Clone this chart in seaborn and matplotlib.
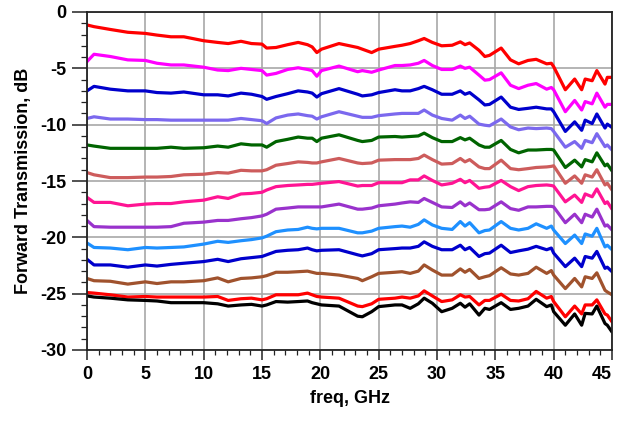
import numpy as np
import pandas as pd
import matplotlib
matplotlib.use("Agg")
import matplotlib.pyplot as plt
import seaborn as sns
from matplotlib.ticker import MultipleLocator

# frequency points (GHz)
freq = [0, 0.6, 2, 3.5, 5, 6, 7.2, 8.3, 10, 11.2, 12.1, 13.2, 14.1, 15, 15.4, 16.2,
        17.2, 18.1, 18.9, 19.3, 19.7, 20.1, 21.6, 23.2, 23.6, 24.4, 25, 26.4, 27,
        27.7, 28.4, 28.9, 29.6, 30.4, 31.3, 32, 32.4, 32.8, 33.6, 34.1, 34.5, 35.5,
        36.3, 37, 37.8, 38.5, 39.4, 39.8, 40, 41, 41.8, 42.4, 42.7, 43.3, 43.7,
        44.4, 44.6, 45]

s01 = [-1.15, -1.3, -1.55, -1.8, -1.9, -2.05, -2.2, -2.2, -2.55, -2.7, -2.8, -2.6, -2.8,
       -2.85, -3.2, -3.15, -2.9, -2.7, -2.9, -3.1, -3.6, -3.3, -2.8, -3.15, -3.3, -3.6,
       -3.3, -3.05, -2.95, -2.8, -2.55, -2.35, -2.7, -3.0, -2.95, -2.65, -2.9, -2.75,
       -3.4, -3.95, -3.85, -3.2, -4.25, -4.6, -4.3, -4.2, -4.6, -4.55, -4.85, -6.9,
       -5.95, -6.9, -5.95, -6.1, -5.2, -6.4, -5.8, -5.8]
s02 = [-4.4, -3.75, -3.95, -4.25, -4.3, -4.55, -4.7, -4.7, -4.9, -5.15, -5.2, -5.0, -5.1,
       -5.2, -5.6, -5.45, -5.1, -4.95, -5.1, -5.2, -5.7, -5.2, -4.8, -5.3, -5.2, -5.35,
       -5.15, -4.75, -4.75, -4.7, -4.55, -4.3, -4.75, -5.1, -5.1, -4.8, -5.0, -4.9,
       -5.6, -6.05, -6.0, -5.4, -6.5, -6.8, -6.5, -6.35, -6.85, -6.7, -6.9, -8.85,
       -7.85, -8.7, -7.95, -8.15, -7.2, -8.45, -8.2, -8.2]
s03 = [-7.0, -6.6, -6.85, -7.0, -7.0, -7.15, -7.2, -7.1, -7.35, -7.35, -7.45, -7.2, -7.3,
       -7.5, -7.75, -7.5, -7.25, -7.0, -7.1, -7.2, -7.55, -7.25, -6.8, -7.3, -7.45, -7.35,
       -7.15, -6.9, -7.0, -7.0, -6.8, -6.6, -6.9, -7.3, -7.3, -7.0, -7.3, -7.15,
       -7.8, -8.25, -8.2, -7.55, -8.45, -8.65, -8.55, -8.45, -8.6, -8.6, -8.85, -10.6,
       -9.75, -10.5, -9.6, -9.9, -9.05, -10.3, -9.95, -10.25]
s04 = [-9.45, -9.3, -9.5, -9.5, -9.55, -9.55, -9.6, -9.6, -9.6, -9.6, -9.6, -9.45, -9.55,
       -9.65, -9.9, -9.4, -9.15, -9.05, -9.2, -9.25, -9.5, -9.3, -8.85, -9.25, -9.35, -9.35,
       -9.2, -9.05, -9.0, -9.0, -9.0, -8.7, -9.15, -9.45, -9.6, -9.15, -9.45, -9.25,
       -9.95, -10.05, -10.1, -9.5, -10.2, -10.45, -10.3, -10.35, -10.3, -10.35, -10.6, -12.0,
       -11.5, -12.1, -11.4, -11.6, -10.8, -11.95, -11.8, -12.25]
s05 = [-11.8, -11.9, -12.1, -12.1, -12.1, -12.1, -12.0, -12.1, -12.05, -11.9, -12.0, -11.7, -11.8,
       -11.8, -12.0, -11.5, -11.3, -11.1, -11.2, -11.2, -11.5, -11.2, -10.9, -11.4, -11.5, -11.4,
       -11.1, -11.05, -11.1, -11.05, -11.0, -10.75, -11.15, -11.5, -11.5, -11.15, -11.35, -11.2,
       -11.8, -12.0, -12.0, -11.4, -12.2, -12.5, -12.25, -12.25, -12.2, -12.2, -12.25, -13.8,
       -13.15, -13.75, -13.1, -13.3, -12.5, -13.65, -13.5, -14.1]
s06 = [-14.25, -14.45, -14.7, -14.7, -14.65, -14.65, -14.6, -14.45, -14.4, -14.25, -14.3, -14.05, -14.1,
       -14.1, -14.0, -13.6, -13.45, -13.3, -13.35, -13.4, -13.4, -13.3, -13.0, -13.4, -13.45, -13.4,
       -13.15, -13.1, -13.1, -13.1, -13.0, -12.7, -13.1, -13.5, -13.45, -13.0, -13.3, -13.1,
       -13.75, -13.9, -13.9, -13.15, -13.9, -14.0, -13.9, -13.8, -13.75, -13.7, -13.65, -15.2,
       -14.55, -15.2, -14.45, -14.65, -14.0, -15.35, -15.2, -15.8]
s07 = [-16.45, -16.9, -16.9, -17.2, -17.05, -17.0, -17.0, -16.85, -16.7, -16.4, -16.55, -16.15, -16.1,
       -16.0, -15.8, -15.5, -15.4, -15.35, -15.3, -15.3, -15.25, -15.2, -15.05, -15.45, -15.4, -15.4,
       -15.15, -15.15, -15.15, -14.9, -14.9, -14.55, -14.95, -15.35, -15.2, -14.85, -15.15, -14.95,
       -15.65, -15.55, -15.5, -14.95, -15.5, -15.85, -15.5, -15.4, -15.35, -15.4, -15.45, -16.85,
       -16.25, -16.9, -16.15, -16.4, -15.7, -17.0, -16.85, -17.5]
s08 = [-18.5, -19.05, -19.1, -19.1, -19.1, -19.1, -19.05, -18.75, -18.65, -18.5, -18.5, -18.35, -18.25,
       -18.1, -17.95, -17.5, -17.4, -17.3, -17.3, -17.3, -17.3, -17.3, -17.05, -17.5, -17.5, -17.4,
       -17.2, -17.05, -16.95, -16.85, -16.9, -16.55, -16.9, -17.3, -17.35, -16.85, -17.2, -16.95,
       -17.55, -17.55, -17.5, -16.85, -17.45, -17.6, -17.3, -17.3, -17.25, -17.25, -17.3, -18.7,
       -17.95, -18.7, -17.95, -18.2, -17.5, -19.0, -18.9, -19.35]
s09 = [-20.5, -20.9, -20.95, -21.1, -20.9, -20.95, -20.9, -20.85, -20.6, -20.35, -20.45, -20.3, -20.2,
       -20.05, -19.9, -19.5, -19.35, -19.3, -19.1, -19.2, -19.25, -19.2, -19.2, -19.6, -19.6, -19.45,
       -19.2, -19.05, -19.0, -19.1, -18.85, -18.45, -18.9, -19.2, -19.3, -18.6, -19.0, -18.7,
       -19.6, -19.4, -19.35, -18.6, -19.2, -19.35, -19.2, -18.8, -19.2, -19.0, -19.35, -20.55,
       -19.8, -20.55, -19.7, -19.9, -19.2, -20.85, -20.7, -21.1]
s10 = [-21.95, -22.45, -22.45, -22.65, -22.45, -22.55, -22.4, -22.3, -22.15, -21.95, -22.15, -21.9, -21.8,
       -21.7, -21.55, -21.25, -21.15, -21.1, -20.95, -21.1, -21.2, -21.15, -21.1, -21.55, -21.65, -21.45,
       -21.1, -21.0, -20.95, -20.95, -20.8, -20.4, -20.8, -21.1, -21.1, -20.7, -21.1, -20.9,
       -21.7, -21.45, -21.4, -20.7, -21.35, -21.2, -21.05, -20.8, -21.1, -20.95, -21.4, -22.6,
       -21.85, -22.6, -21.7, -21.85, -21.25, -22.75, -22.65, -23.05]
s11 = [-23.65, -23.85, -23.9, -24.15, -23.95, -24.1, -23.95, -23.95, -23.85, -23.6, -23.95, -23.65, -23.6,
       -23.5, -23.4, -23.1, -23.1, -23.05, -23.0, -23.1, -23.2, -23.2, -23.35, -23.65, -23.85, -23.5,
       -23.2, -23.1, -23.05, -23.2, -23.0, -22.45, -22.9, -23.35, -23.35, -22.8, -23.1, -22.85,
       -23.65, -23.5, -23.4, -22.7, -23.25, -23.35, -23.2, -22.65, -23.2, -22.95, -23.35, -24.55,
       -23.65, -24.4, -23.5, -23.65, -23.15, -24.7, -24.85, -25.1]
s12 = [-24.9, -24.95, -25.1, -25.3, -25.25, -25.3, -25.3, -25.3, -25.3, -25.25, -25.6, -25.45, -25.4,
       -25.55, -25.45, -25.1, -25.1, -25.1, -24.95, -25.1, -25.25, -25.3, -25.4, -26.1, -26.15, -25.9,
       -25.5, -25.4, -25.3, -25.4, -25.2, -24.75, -25.2, -25.7, -25.55, -25.1, -25.3, -25.25,
       -26.0, -25.6, -25.6, -25.05, -25.6, -25.65, -25.45, -24.8, -25.4, -25.25, -25.7, -27.05,
       -26.1, -26.8, -26.0, -26.0, -25.55, -26.8, -26.9, -27.5]
s13 = [-25.2, -25.3, -25.4, -25.55, -25.6, -25.65, -25.8, -25.8, -25.8, -25.9, -26.1, -26.0, -25.95,
       -26.1, -26.0, -25.7, -25.75, -25.7, -25.65, -25.8, -25.9, -26.0, -26.1, -27.0, -27.05, -26.6,
       -26.15, -26.0, -26.0, -26.3, -25.9, -25.4, -25.85, -26.6, -26.3, -25.85, -26.2, -25.9,
       -26.9, -26.3, -26.4, -25.8, -26.4, -26.3, -26.1, -25.5, -26.15, -26.0, -26.6, -27.8,
       -26.8, -27.8, -26.75, -26.8, -26.1, -27.65, -27.8, -28.4]

series = [s01, s02, s03, s04, s05, s06, s07, s08, s09, s10, s11, s12, s13]
colors = ["#FF0000", "#FF00FF", "#0000CC", "#7B68EE", "#006400", "#CD5C5C", "#FF1493",
          "#9932CC", "#1E90FF", "#0000CC", "#A0522D", "#FF0000", "#000000"]
xticks = [0, 5, 10, 15, 20, 25, 30, 35, 40, 45]
yticks = [-30, -25, -20, -15, -10, -5, 0]

rows = []
for i, s in enumerate(series):
    for f, v in zip(freq, s):
        rows.append({"trace": i, "freq": f, "db": v})
df = pd.DataFrame(rows)

sns.set_style("white")
plt.rcParams["font.family"] = ["Liberation Sans", "DejaVu Sans"]
plt.rcParams["font.weight"] = "bold"
plt.rcParams["axes.labelweight"] = "bold"
plt.rcParams["axes.unicode_minus"] = False
plt.rcParams["text.color"] = "black"
plt.rcParams["axes.labelcolor"] = "black"
plt.rcParams["xtick.color"] = "black"
plt.rcParams["ytick.color"] = "black"

fig = plt.figure(figsize=(6.19, 4.22), dpi=100)
ax = fig.add_axes([87 / 619, 1 - 350 / 422, 525 / 619, 338 / 422])

sns.lineplot(data=df, x="freq", y="db", hue="trace", palette=colors, sort=False,
             estimator=None, legend=False, linewidth=2.3, ax=ax)

ax.set_xlim(0, 45)
ax.set_ylim(-30, 0)
ax.set_xticks(xticks, [str(t) for t in xticks])
ax.set_yticks(yticks, [str(t) for t in yticks])
ax.xaxis.set_minor_locator(MultipleLocator(1))
ax.yaxis.set_minor_locator(MultipleLocator(1))
ax.grid(True, which="major", color="#A8A8A8", linewidth=1.2)
ax.set_axisbelow(True)
for sp in ax.spines.values():
    sp.set_color("#222222")
    sp.set_linewidth(1.3)
ax.tick_params(axis="y", which="major", direction="out", length=11, width=1.1,
               color="#222222", labelcolor="black", labelsize=13, pad=4, left=True)
ax.tick_params(axis="y", which="minor", direction="out", length=4.5, width=0.9,
               color="#222222", left=True)
ax.tick_params(axis="x", which="major", direction="out", length=7.5, width=1.1,
               color="#222222", labelcolor="black", labelsize=13, pad=4, bottom=True)
ax.tick_params(axis="x", which="minor", direction="out", length=3.8, width=0.9,
               color="#222222", bottom=True)

# keep the last x tick label inside the figure
ax.get_xticklabels()[-1].set_horizontalalignment("right")

ax.set_xlabel("freq, GHz", fontsize=13, labelpad=5, color="black")
ax.set_ylabel("Forward Transmission, dB", fontsize=13, labelpad=6, color="black")

fig.savefig("out.png", dpi=100)
